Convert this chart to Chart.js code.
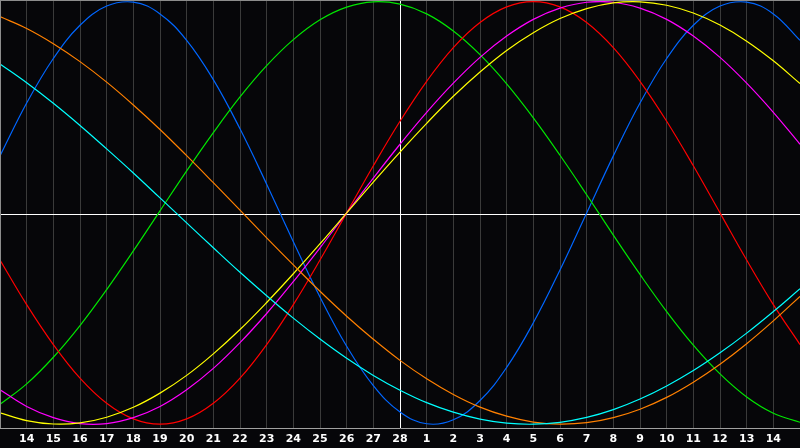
<!DOCTYPE html>
<html>
<head>
<meta charset="utf-8">
<script src="https://cdn.jsdelivr.net/npm/chart.js@4.4.1/dist/chart.umd.min.js"></script>
<style>
    html, body { margin: 0; padding: 0; background: #060609; }
    #wrap { width: 800px; height: 448px; }
</style>
</head>
<body>
<div id="wrap"><canvas id="bio" width="800" height="448"></canvas></div>
<script>
// day labels, first and last sit on the chart edges and are not shown
const days = ['13', '14', '15', '16', '17', '18', '19', '20', '21', '22', '23', '24', '25', '26', '27', '28',
    '1', '2', '3', '4', '5', '6', '7', '8', '9', '10', '11', '12', '13', '14', '15'];

const physical = [0.270, 0.520, 0.731, 0.888, 0.979, 0.998, 0.942, 0.817, 0.631, 0.398, 0.136,
    -0.136, -0.398, -0.631, -0.817, -0.942, -0.998, -0.979, -0.888, -0.731, -0.520, -0.270,
    0, 0.270, 0.520, 0.731, 0.888, 0.979, 0.998, 0.942, 0.817];

const emotional = [-0.223, -0.434, -0.623, -0.782, -0.901, -0.975, -1, -0.975, -0.901, -0.782, -0.623,
    -0.434, -0.223, 0, 0.223, 0.434, 0.623, 0.782, 0.901, 0.975, 1, 0.975,
    0.901, 0.782, 0.623, 0.434, 0.223, 0, -0.223, -0.434, -0.623];

const intellectual = [-0.906, -0.809, -0.683, -0.533, -0.363, -0.180, 0.010, 0.199, 0.380, 0.549, 0.697,
    0.820, 0.914, 0.974, 0.999, 0.988, 0.942, 0.861, 0.749, 0.611, 0.450, 0.273,
    0.086, -0.105, -0.291, -0.467, -0.626, -0.762, -0.871, -0.948, -0.991];

const intuitive = [-0.837, -0.916, -0.969, -0.997, -0.997, -0.969, -0.916, -0.837, -0.736, -0.614, -0.476,
    -0.325, -0.165, 0, 0.165, 0.325, 0.476, 0.614, 0.736, 0.837, 0.916, 0.969,
    0.997, 0.997, 0.969, 0.916, 0.837, 0.736, 0.614, 0.476, 0.325];

const aesthetic = [-0.946, -0.983, -0.999, -0.994, -0.967, -0.920, -0.853, -0.769, -0.667, -0.552, -0.424,
    -0.288, -0.146, 0, 0.146, 0.288, 0.424, 0.552, 0.667, 0.769, 0.853, 0.920,
    0.967, 0.994, 0.999, 0.983, 0.946, 0.889, 0.813, 0.720, 0.612];

const awareness = [0.929, 0.873, 0.801, 0.716, 0.619, 0.511, 0.395, 0.271, 0.143, 0.013, -0.118,
    -0.246, -0.371, -0.489, -0.598, -0.698, -0.785, -0.859, -0.919, -0.962, -0.990, -1.000,
    -0.993, -0.969, -0.929, -0.873, -0.801, -0.716, -0.619, -0.511, -0.395];

const spiritual = [0.705, 0.616, 0.519, 0.414, 0.303, 0.189, 0.071, -0.047, -0.165, -0.281, -0.392,
    -0.498, -0.597, -0.688, -0.769, -0.839, -0.898, -0.943, -0.976, -0.995, -1.000, -0.991,
    -0.968, -0.931, -0.881, -0.819, -0.746, -0.662, -0.569, -0.467, -0.359];

const todayIndex = 15;

function line(label, data, color) {
    return {
        label: label,
        data: data,
        borderColor: color,
        borderWidth: 1.2,
        pointRadius: 0,
        tension: 0.4,
        fill: false
    };
}

// black background, grey frame and the white zero line
const backdrop = {
    id: 'backdrop',
    beforeDraw(chart) {
        const ctx = chart.ctx;
        ctx.save();
        ctx.fillStyle = '#060609';
        ctx.fillRect(0, 0, chart.width, chart.height);
        ctx.restore();
    },
    beforeDatasetsDraw(chart) {
        const ctx = chart.ctx;
        const area = chart.chartArea;
        const y0 = Math.round(chart.scales.y.getPixelForValue(-0.007)) + 0.5;
        ctx.save();
        ctx.strokeStyle = '#ffffff';
        ctx.lineWidth = 1;
        ctx.beginPath();
        ctx.moveTo(area.left, y0);
        ctx.lineTo(area.right, y0);
        ctx.stroke();
        ctx.restore();
    },
    afterDraw(chart) {
        const ctx = chart.ctx;
        const area = chart.chartArea;
        ctx.save();
        ctx.strokeStyle = '#8c8c8c';
        ctx.lineWidth = 1;
        ctx.beginPath();
        ctx.moveTo(0, 0.5);
        ctx.lineTo(chart.width, 0.5);
        ctx.moveTo(0.5, 0);
        ctx.lineTo(0.5, area.bottom);
        ctx.stroke();
        ctx.restore();
    }
};

new Chart(document.getElementById('bio'), {
    type: 'line',
    data: {
        labels: days,
        datasets: [
            line('Spiritual', spiritual, '#00ffff'),
            line('Awareness', awareness, '#ff8000'),
            line('Aesthetic', aesthetic, '#ffff00'),
            line('Intuitive', intuitive, '#ff00ff'),
            line('Emotional', emotional, '#ff0000'),
            line('Intellectual', intellectual, '#00e600'),
            line('Physical', physical, '#0066ff')
        ]
    },
    options: {
        responsive: false,
        animation: false,
        devicePixelRatio: 1,
        layout: { padding: { left: 0, right: 0, top: 1, bottom: 0 } },
        plugins: {
            legend: { display: false },
            tooltip: { enabled: false }
        },
        scales: {
            x: {
                offset: false,
                afterFit: axis => {
                    axis.height = 20;
                    axis.paddingLeft = 0;
                    axis.paddingRight = 0;
                },
                grid: {
                    drawTicks: false,
                    color: ctx => ctx.index === todayIndex ? '#ffffff' : '#3a3a3a',
                    lineWidth: 1
                },
                border: { display: true, color: '#a0a0a0' },
                ticks: {
                    color: '#ffffff',
                    padding: 5,
                    maxRotation: 0,
                    autoSkip: false,
                    font: { family: 'DejaVu Sans', size: 11, weight: 'bold' },
                    callback: function(value, index) {
                        return (index === 0 || index === days.length - 1) ? '' : days[index];
                    }
                }
            },
            y: {
                display: false,
                min: -1.018,
                max: 1.003
            }
        }
    },
    plugins: [backdrop]
});
</script>
</body>
</html>
